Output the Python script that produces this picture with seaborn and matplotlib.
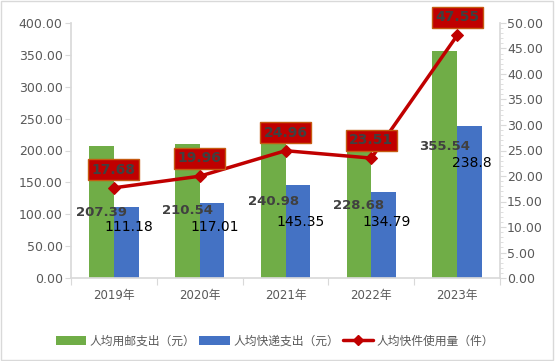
import matplotlib
matplotlib.use("Agg")
import matplotlib.pyplot as plt
import seaborn as sns
import pandas as pd
from matplotlib.patches import Patch, Rectangle
from matplotlib.lines import Line2D

years = ["2019年", "2020年", "2021年", "2022年", "2023年"]
postal_spend = [207.39, 210.54, 240.98, 228.68, 355.54]
express_spend = [111.18, 117.01, 145.35, 134.79, 238.8]
parcels = [17.68, 19.96, 24.96, 23.51, 47.55]
series_names = ["人均用邮支出（元）", "人均快递支出（元）", "人均快件使用量（件）"]

sns.set_theme(style="white")
plt.rcParams['font.family'] = ['DejaVu Sans', 'Noto Sans CJK SC']

GREEN = "#70AD47"
BLUE = "#4472C4"
RED = "#C00000"
GRAY = "#595959"

df = pd.DataFrame({
    "year": years * 2,
    "value": postal_spend + express_spend,
    "series": [series_names[0]] * len(years) + [series_names[1]] * len(years),
})

fig = plt.figure(figsize=(5.55, 3.61), dpi=100)
ax = fig.add_axes([71 / 555, 1 - 278 / 361, 429 / 555, 255 / 361])

sns.barplot(data=df, x="year", y="value", hue="series", palette=[GREEN, BLUE],
            width=0.575, gap=0, saturation=1, ax=ax, legend=False, linewidth=0)
ax.set_ylim(0, 400)
ax.set_xlim(-0.5, len(years) - 0.5)
ax.set_yticks(range(0, 401, 50))
ax.set_yticklabels([f"{v:.2f}" for v in range(0, 401, 50)], color=GRAY, fontsize=9)
ax.set_xlabel("")
ax.set_ylabel("")
ax.tick_params(axis="x", length=0, pad=8, labelsize=8.5, labelcolor=GRAY)
ax.tick_params(axis="y", length=4, width=0.8, color="#D9D9D9", left=True, pad=2)
ax.set_xticks(range(len(years)))
ax.set_xticklabels(years)
ax.set_xticks([i - 0.5 for i in range(len(years) + 1)], minor=True)
ax.tick_params(axis="x", which="minor", length=5, width=0.8, color="#D9D9D9", bottom=True)
for s in ["top", "right"]:
    ax.spines[s].set_visible(False)
ax.spines["left"].set_color("#D9D9D9")
ax.spines["bottom"].set_color("#D9D9D9")

hw = 0.575 / 4
green_label_y = [103, 106, 120, 114, 207]
blue_label_y = [80, 80, 88, 88, 181]
for i in range(len(years)):
    ax.text(i - hw, green_label_y[i], f"{postal_spend[i]:.2f}", ha="center", va="center",
            fontsize=9.5, fontweight="bold", color="#404040")
    ax.text(i + hw + 0.03, blue_label_y[i], f"{express_spend[i]}", ha="center", va="center",
            fontsize=10, color="black")

ax2 = ax.twinx()
sns.lineplot(x=list(range(len(years))), y=parcels, ax=ax2, color=RED, linewidth=2.5,
             marker="D", markersize=6, markeredgecolor=RED, legend=False)
ax2.set_ylim(0, 50)
ax2.set_xlim(-0.5, len(years) - 0.5)
ax2.set_yticks(range(0, 51, 5))
ax2.set_yticklabels([f"{v:.2f}" for v in range(0, 51, 5)], color=GRAY, fontsize=9)
ax2.set_yticks([v for v in range(0, 51)], minor=True)
ax2.tick_params(axis="y", which="major", length=4, width=0.8, color="#D9D9D9", right=True, pad=1)
ax2.tick_params(axis="y", which="minor", length=2, width=0.6, color="#D9D9D9", right=True)
for s in ["top", "left", "bottom"]:
    ax2.spines[s].set_visible(False)
ax2.spines["right"].set_color("#D9D9D9")

for i, v in enumerate(parcels):
    ax2.annotate(f"{v:.2f}", (i, v), xytext=(0, 18), textcoords="offset pixels",
                 ha="center", va="center", fontsize=10, fontweight="bold", color="#404040",
                 bbox=dict(boxstyle="square,pad=0.25", facecolor=RED, edgecolor="#C55A11", linewidth=1))

handles = [Patch(facecolor=GREEN, edgecolor="none"),
           Patch(facecolor=BLUE, edgecolor="none"),
           Line2D([0], [0], color=RED, linewidth=2.5, marker="D", markersize=5)]
leg = fig.legend(handles, series_names, loc="center", bbox_to_anchor=(275 / 555, 1 - 341 / 361),
                 ncol=3, frameon=False, fontsize=8.5, handlelength=2.6, handletextpad=0.3,
                 columnspacing=0.3, labelcolor=GRAY)

fig.patches.append(Rectangle((0.002, 0.003), 0.995, 0.993, transform=fig.transFigure,
                             fill=False, edgecolor="#D9D9D9", linewidth=1))

fig.savefig("out.png", dpi=100)
